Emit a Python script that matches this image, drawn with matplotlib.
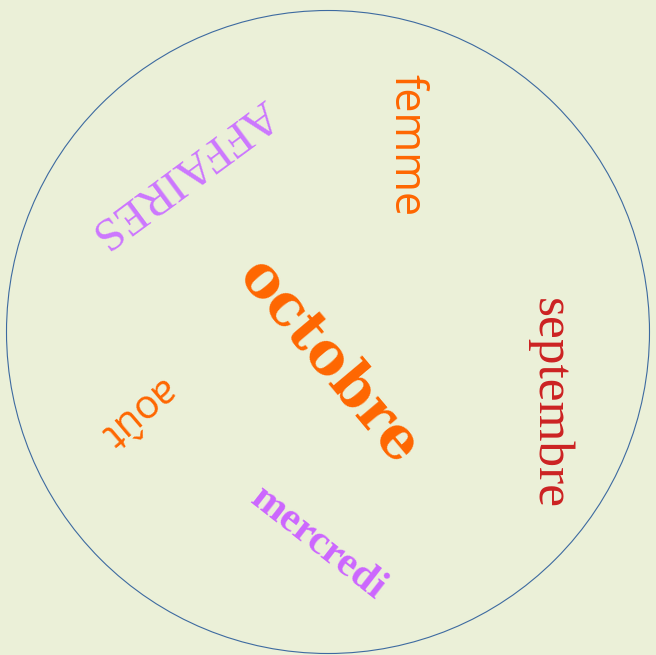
import matplotlib
matplotlib.use("Agg")
import matplotlib.pyplot as plt
from matplotlib.patches import Circle

# Word cloud data
words = ["octobre", "septembre", "AFFAIRES", "femme", "mercredi", "août"]
weights = [42, 37, 34, 31, 30, 29]
colors = ["#FF6600", "#CC2222", "#CC77FF", "#FF6600", "#CC66FF", "#FF6600"]
rotations = [-50, -90, -143.5, -90, -38, -139.5]

# Layout (pixel coordinates of word centres) and styles
centres = [(329, 362), (549, 404), (183, 172), (406, 145), (318, 543), (136, 412)]
families = ["DejaVu Serif", "Liberation Serif", "Liberation Serif", "Open Sans", "Liberation Serif", "Open Sans"]
fweights = ["bold", "normal", "normal", "normal", "bold", "normal"]

W, H = 656, 655
fig = plt.figure(figsize=(W / 100, H / 100), dpi=100)
bg = "#EBF0D8"
fig.patch.set_facecolor(bg)
ax = fig.add_axes([0, 0, 1, 1])
ax.set_facecolor(bg)
ax.set_xlim(0, W)
ax.set_ylim(H, 0)
ax.axis("off")

ax.add_patch(Circle((328, 332), 321.5, fill=False, edgecolor="#3D6AA0", linewidth=0.8))

for w, s, c, r, (x, y), fam, fw in zip(words, weights, colors, rotations, centres, families, fweights):
    ax.text(x, y, w, fontsize=s, color=c, rotation=r, rotation_mode="anchor",
            ha="center", va="center", family=fam, fontweight=fw)

fig.savefig("out.png", dpi=100, facecolor=bg)
